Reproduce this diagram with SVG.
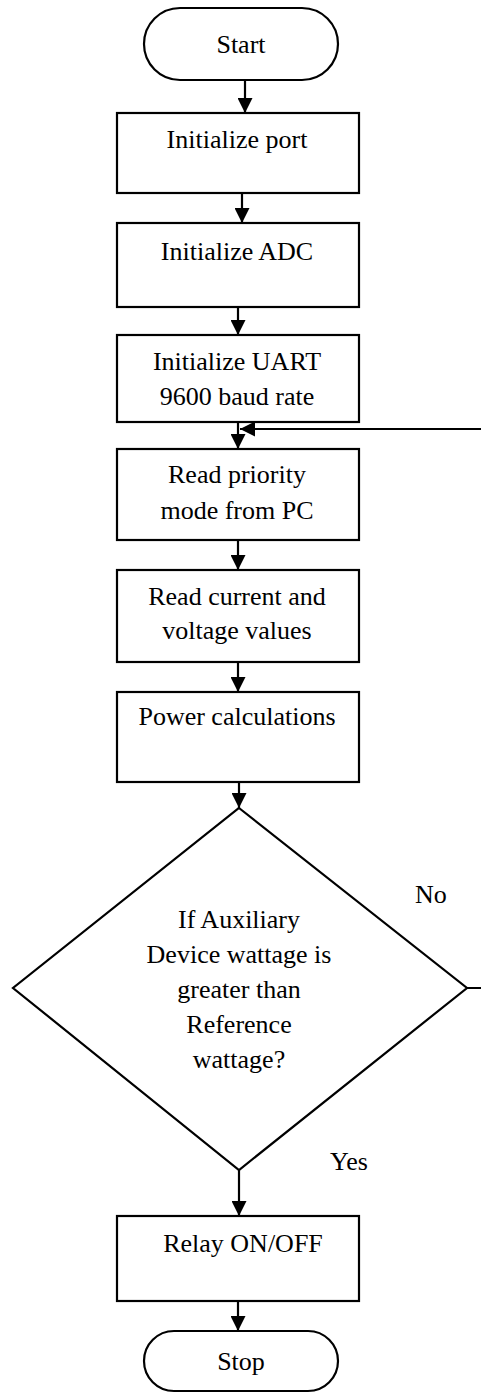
<svg xmlns="http://www.w3.org/2000/svg" width="481" height="1396" viewBox="0 0 481 1396">
<style>
.shape{fill:#fff;stroke:#000;stroke-width:2.2}
.t{font-family:"Liberation Serif","DejaVu Serif",serif;font-size:26px;fill:#000;text-anchor:middle}
.lbl{font-family:"Liberation Serif","DejaVu Serif",serif;font-size:26px;fill:#000}
.c{fill:none;stroke:#000;stroke-width:2.2}
</style>
<defs>
<marker id="ah" markerUnits="userSpaceOnUse" markerWidth="15" markerHeight="15" viewBox="0 0 10 10" refX="10" refY="5" orient="auto">
<path d="M0,0 L10,5 L0,10 z" fill="#000"/>
</marker>
</defs>
<rect width="481" height="1396" fill="#fff"/>
<g id="connectors">
<line class="c" x1="245" y1="81" x2="245" y2="113" marker-end="url(#ah)"/>
<line class="c" x1="242" y1="193" x2="242" y2="223" marker-end="url(#ah)"/>
<line class="c" x1="238" y1="307" x2="238" y2="335" marker-end="url(#ah)"/>
<line class="c" x1="238" y1="422" x2="238" y2="449" marker-end="url(#ah)"/>
<path class="c" d="M467,988 H500 V429 H240" marker-end="url(#ah)"/>
<line class="c" x1="238" y1="540" x2="238" y2="570" marker-end="url(#ah)"/>
<line class="c" x1="238" y1="662" x2="238" y2="692" marker-end="url(#ah)"/>
<line class="c" x1="239" y1="782" x2="239" y2="808" marker-end="url(#ah)"/>
<line class="c" x1="239" y1="1170" x2="239" y2="1216" marker-end="url(#ah)"/>
<line class="c" x1="238" y1="1301" x2="238" y2="1331" marker-end="url(#ah)"/>
<text class="lbl" x="415" y="903" font-family="Liberation Serif, serif">No</text>
<text class="lbl" x="330" y="1170" font-family="Liberation Serif, serif">Yes</text>
</g>
<g id="start">
<rect class="shape" x="144" y="8" width="194" height="72" rx="36"/>
<text class="t" x="241" y="53" font-family="Liberation Serif, serif">Start</text>
</g>
<g id="init-port">
<rect class="shape" x="117" y="113" width="242" height="80"/>
<text class="t" x="237" y="148" font-family="Liberation Serif, serif">Initialize port</text>
</g>
<g id="init-adc">
<rect class="shape" x="117" y="223" width="242" height="84"/>
<text class="t" x="237" y="260" font-family="Liberation Serif, serif">Initialize ADC</text>
</g>
<g id="init-uart">
<rect class="shape" x="117" y="335" width="242" height="87"/>
<text class="t" x="237" y="370" font-family="Liberation Serif, serif">Initialize UART</text>
<text class="t" x="237" y="405" font-family="Liberation Serif, serif">9600 baud rate</text>
</g>
<g id="read-priority">
<rect class="shape" x="117" y="449" width="242" height="91"/>
<text class="t" x="237" y="483" font-family="Liberation Serif, serif">Read priority</text>
<text class="t" x="237" y="519" font-family="Liberation Serif, serif">mode from PC</text>
</g>
<g id="read-values">
<rect class="shape" x="117" y="570" width="242" height="92"/>
<text class="t" x="237" y="605" font-family="Liberation Serif, serif">Read current and</text>
<text class="t" x="237" y="639" font-family="Liberation Serif, serif">voltage values</text>
</g>
<g id="power-calc">
<rect class="shape" x="117" y="692" width="242" height="90"/>
<text class="t" x="237" y="725" font-family="Liberation Serif, serif">Power calculations</text>
</g>
<g id="decision">
<polygon class="shape" points="239,808 467,988 239,1170 13,988"/>
<text class="t" x="239" y="928" font-family="Liberation Serif, serif">If Auxiliary</text>
<text class="t" x="239" y="963" font-family="Liberation Serif, serif">Device wattage is</text>
<text class="t" x="239" y="998" font-family="Liberation Serif, serif">greater than</text>
<text class="t" x="239" y="1033" font-family="Liberation Serif, serif">Reference</text>
<text class="t" x="239" y="1068" font-family="Liberation Serif, serif">wattage?</text>
</g>
<g id="relay">
<rect class="shape" x="117" y="1216" width="242" height="85"/>
<text class="t" x="243" y="1252" font-family="Liberation Serif, serif">Relay ON/OFF</text>
</g>
<g id="stop">
<rect class="shape" x="144" y="1331" width="194" height="60" rx="30"/>
<text class="t" x="241" y="1370" font-family="Liberation Serif, serif">Stop</text>
</g>
</svg>
